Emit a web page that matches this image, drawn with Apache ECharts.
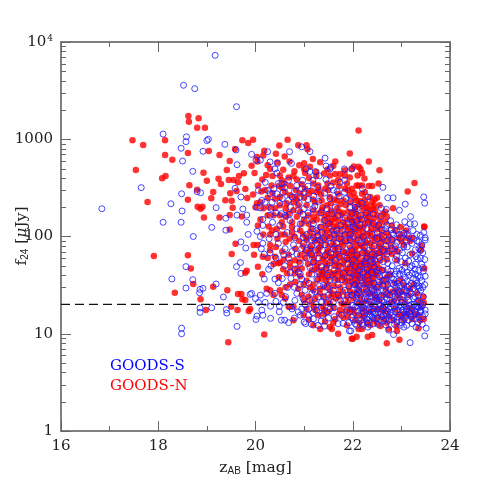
<!DOCTYPE html>
<html>
<head>
<meta charset="utf-8">
<style>
html, body { margin: 0; padding: 0; background: #fff; }
#chart { width: 491px; height: 491px; }
</style>
<script src="https://cdn.jsdelivr.net/npm/echarts@6/dist/echarts.min.js"></script>
</head>
<body>
<div id="chart"></div>
<script>
// values: [z_AB, f24 in microJy]
const goodsN = [
[18.62,1733],[18.83,1640],[18.63,1514],[18.8,1315],[18.96,1315],[17.47,975],[18.14,975],[17.69,873],[19.73,975],[19.85,915],
[19.58,795],[19.04,757],[18.61,722],[18.14,689],[19.26,689],[18.29,617],[19.47,597],[17.54,483],[19.41,483],[18.93,453],
[19.76,447],[19.66,419],[18.15,419],[18.08,398],[19.24,393],[19.45,381],[19.55,381],[19.0,375],[19.64,361],[19.29,347],
[18.64,336],[19.79,308],[18.8,303],[19.61,294],[19.13,287],[19.48,278],[19.09,247],[19.83,249],[18.61,239],[19.38,236],
[19.51,233],[17.78,226],[18.81,202],[18.91,202],[18.87,193],[19.53,198],[19.47,166],[18.94,157],[19.26,157],[19.72,161],
[19.47,118],[19.59,84],[17.91,63],[18.61,64],[19.51,66],[18.67,47],[19.82,44.5],[19.79,42.5],[18.72,32.5],[18.34,26.4],
[19.13,30.5],[19.42,28],[19.64,25.6],[19.71,25.6],[19.73,22.6],[19.79,22.2],[18.87,22.6],[19.5,19],[18.98,17.5],[19.63,17.5],
[19.86,17.1],[19.44,8.2],
[19.95,990],[20.49,860],[20.66,990],[20.88,870],[21.05,870],[21.07,790],[21.18,625],[21.94,715],[20.6,665],[20.42,710],
[20.18,760],[20.16,680],[20.03,655],[20.04,590],[19.92,535],[20.3,495],[20.57,485],[20.5,425],[20.14,385],[20.05,335],
[20.68,405],[20.54,378],[21.0,565],[21.0,495],[21.02,450],[21.33,580],[21.64,590],[21.6,535],[21.84,480],[21.98,495],
[22.12,520],[21.94,405],[21.64,440],[21.74,440],[21.84,425],[20.85,385],[21.41,445],[21.53,425],[21.6,360],[22.08,335],
[21.88,350],[21.84,310],[21.43,310],[21.29,335],[21.19,350],[21.09,275],[21.26,285],[21.02,310],[20.92,275],[20.81,255],
[20.71,265],[20.61,285],[20.5,255],[20.4,245],[20.1,225],[20.03,220],[20.0,200],[20.16,195],[20.4,195],[20.5,210],
[20.64,220],[20.78,225],[20.88,210],[21.05,210],[21.23,225],[21.36,235],[21.53,255],[21.7,275],[21.81,235],[21.94,265],
[22.08,235],[21.36,186],[21.47,210],[21.3,172],[21.19,186],[21.09,165],[20.92,180],[20.78,186],[20.68,172],[20.5,165],
[20.37,165],[20.54,140],[20.27,127],[20.44,120],[20.57,127],[20.52,105],[20.16,105],[20.34,115],[20.75,110],[20.92,115],
[21.09,135],[21.26,150],[21.4,146],[21.53,135],[21.64,155],[21.77,165],[21.91,180],[22.05,186],[22.12,150],[21.98,146],
[21.84,130],[21.7,146],[21.57,115],[21.47,115],[21.33,125],[21.19,100],[21.05,97],[21.36,97],[21.67,97],[21.94,97],
[22.12,115],[21.81,105],[20.75,140],
[22.12,1230],[22.33,590],[22.55,480],[22.16,495],[22.19,450],[22.02,525],[22.1,425],[22.24,395],[22.12,335],[22.19,335],
[22.33,330],[22.4,330],[22.53,350],[23.27,355],[23.13,290],[22.83,195],[22.19,275],[22.36,255],[22.16,230],[22.4,225],
[22.43,210],[22.33,186],[22.46,186],[22.05,200],[22.26,165],[22.36,172],[22.5,165],[22.67,180],[22.16,150],[22.02,146],
[22.4,140],[22.57,150],[22.67,140],[22.98,125],[23.1,115],[22.87,115],[23.47,127],[23.47,125],[22.22,125],[22.57,120],
[21.98,115],[22.36,110],[22.74,100],[23.22,97],[23.11,97],[22.16,100],[22.46,97],[22.94,97],
[19.96,82],[20.04,82],[20.3,82],[20.05,49],[20.14,41],[20.37,52],[20.5,54],[20.57,46],[20.47,53],[20.71,54],
[20.81,57],[20.92,64],[21.02,70],[21.16,64],[21.19,54],[21.16,45],[21.26,49],[21.43,54],[21.53,62],[21.64,72],
[21.81,82],[21.94,68],[22.08,80],[21.94,49],[21.74,42],[21.64,37],[21.5,32],[21.36,37],[21.19,32],[21.05,35],
[20.92,39],[20.81,42],[20.71,32],[20.3,28],[20.23,29],[20.37,25],[20.5,28],[20.54,25],[20.61,23],[20.68,19],
[20.78,19],[20.95,25],[21.09,24],[21.23,23],[21.4,24],[21.53,20.5],[21.88,24],[22.01,23],[22.12,20.5],[21.7,26],
[19.89,18],[21.23,17.5],[20.99,15.5],[20.78,13.8],[21.19,12.2],[21.33,11.2],[21.53,11.7],[21.57,11.2],[21.7,10],[21.64,14.2],
[21.43,13.4],[21.29,15.5],[21.88,12.2],[21.98,8.9],[20.18,9.8],[22.08,9.3],[22.12,11.2],[21.81,14.7],[21.98,16.8],[21.5,16.8],
[21.74,17.5],[20.99,32],[21.36,45],[21.53,43],[21.67,54],[21.84,57],[21.98,38],[22.08,33],[21.84,34],[21.74,30],
[21.53,28],[21.33,29],[21.19,28],[21.77,20.5],[21.94,18],[22.08,15.5],[21.05,18],
[22.0,8.9],[22.31,9.3],[22.4,9.7],[22.7,8],[22.96,8.7],[23.35,11.4],[22.91,10.7],[22.57,12],[22.74,11.2],[23.39,13.8],
[23.46,14.2],[23.47,47],[23.25,32],[23.39,72],[23.22,67],[23.42,80],[23.18,90],[21.98,57],[22.09,54],[22.22,57],
[22.36,50],[22.5,52],[22.02,45],[22.16,41],[22.29,43],[22.43,41],[22.57,57],[22.63,45],[22.77,41],[22.91,57],
[23.08,53],[22.36,33.5],[22.22,32],[22.05,32],[22.57,32],[22.7,33.5],[22.87,33.5],[23.05,31.5],[22.02,26],[22.16,24],
[22.33,26],[22.46,23],[22.63,25],[22.81,27],[22.98,23],[23.15,25],[23.35,22],[23.46,21],[22.02,17.5],[22.19,18],
[22.36,16.8],[22.53,18],[22.7,16.8],[22.87,18],[23.05,16],[23.22,17.5],[22.05,13.8],[22.22,14.7],[22.43,13.8],[22.63,14.2],
[22.84,13.8],[23.05,13.8],[23.22,14.2],[23.35,15.5],[22.36,12.2],[22.19,11.2],[22.16,82],[22.36,85],[22.53,79],[22.7,89],
[22.87,75],[23.05,82],[22.05,74],[22.26,66],[22.43,69],[22.63,64],[22.81,66],
// centre of the red mass
[21.05,92],[21.22,89],[21.43,91],[21.6,88],[21.88,90],[22.0,87],[22.25,92],[22.45,90],[22.6,94],[21.12,79],[21.32,77],
[21.5,80],[21.72,78],[21.95,76],[22.2,79],[22.4,77],[22.58,76],[21.1,68],[21.3,67],[21.47,69],[21.7,66],[21.85,68],
[22.02,65],[22.3,68],[22.5,67],[22.72,70],[21.2,60],[21.38,59],[21.58,61],[21.75,60],[21.9,58],[22.1,61],[22.28,60],
[22.42,59],[22.7,58],[21.08,52],[21.3,53],[21.48,51],[21.62,50],[21.8,52],[22.0,51],[22.15,53],[22.3,50],[22.45,49],
[21.25,46],[21.45,47],[21.7,45],[21.88,46],[22.05,47],[22.2,46],[22.38,45],[22.55,47],[21.1,41],[21.42,40],[21.6,41],
[21.78,39],[21.92,42],[22.1,40],[22.3,39],[22.5,40],[22.7,38],[21.28,36],[21.45,35],[21.7,36],[21.9,35],[22.05,37],
[22.25,36],[22.42,35],[22.6,36],[21.12,30],[21.42,30],[21.62,31],[21.92,30],[22.12,29],[22.3,30],[22.48,29],[22.68,29],
[22.98,36],[22.9,28],[21.32,26],[21.58,26],[21.8,27],[21.95,27],[22.22,27],[22.4,26],[22.73,25],[22.92,25],[21.15,21],
[21.45,21],[21.65,23],[21.82,20],[22.28,22],[22.55,22],[22.78,21],[23.08,21],[21.38,19],[21.6,18.5],[21.72,16],[22.2,15.5],
[22.45,18],[22.62,17],[22.95,16],[23.15,18.5],[21.1,14],[21.4,16],[21.9,15],[22.3,13],[22.52,15],[22.75,15],[23.0,15],
// upper part of the mass
[21.15,295],[21.35,270],[21.5,300],[21.62,240],[21.75,215],[21.9,300],[22.02,280],[22.25,285],[22.28,215],[22.5,250],
[22.05,170],[22.12,215],[22.25,240],[22.3,200],[22.45,240],[22.55,210],[22.02,120],[22.1,130],[22.25,135],[22.3,150],
[22.48,130],[22.6,105],[22.7,160],[21.55,185],[21.68,195],[21.8,175],[21.95,160],[21.2,160],[21.42,165],[21.58,150],
[21.15,120],[21.28,110],[21.45,130],[21.62,125],[21.75,120],[21.9,115],[22.05,105],[21.12,110],[21.48,100],[21.76,95],
[22.22,110],[22.8,130],[23.0,105],[22.52,100],[22.82,92],[23.0,90],[20.7,95],[20.9,90],[20.45,95],[20.62,88],[20.82,75],
[20.98,80],[20.55,70],[20.68,65],[20.25,60],[20.48,38],[20.65,42],[20.82,34],[20.95,47],[20.15,62],[19.97,65],
[20.2,300],[20.33,335],[20.12,290],[20.48,330],[20.72,330],[20.83,300],[20.95,345],[21.1,400],[21.25,420],[20.22,430],
[20.35,420],[20.8,470],[20.9,540],[20.7,590],[20.45,575],[20.25,540],[19.98,450],[19.95,270],[20.28,200],[20.62,160],
[20.85,160],[20.25,165],[20.1,150],[20.05,130],[20.3,105],
// solid core, second pass over the crops
[21.98,52],[22.05,60],[22.12,48],[22.2,52],[22.27,55],[22.34,45],[22.41,53],[22.02,40],[22.09,44],[22.24,38],[22.32,42],
[22.39,38],[21.99,34],[22.12,37],[22.28,33],[22.35,36],[22.42,31],[22.47,44],[21.92,64],[22.02,70],[22.14,66],[22.24,72],
[22.35,62],[22.45,64],[22.56,68],[21.8,70],[21.66,64],[21.56,56],[21.72,50],[21.85,44],[21.63,42],[21.5,38],[21.38,42],
[21.82,38],[22.18,100],[22.08,92],[22.3,105],[22.38,122],[22.14,122],[22.02,135],[21.9,125],[21.8,140],[21.68,130],
[21.56,140],[21.48,155],[21.88,150],[22.0,175],[22.12,165],[22.22,185],[22.32,160],[22.44,155],[21.72,180],[21.62,170],
[21.5,170],[21.38,200],[21.55,220],[21.68,235],[21.86,210],[21.96,225],[22.2,205],[22.42,195],[22.35,140],[22.55,135],
[22.62,170],[22.48,118],[22.58,88],[22.7,110],[22.78,80],[22.92,70],[21.68,108],[21.55,100],[21.42,110],[21.28,92],
[21.35,82],[21.5,70],[21.62,80],[21.78,88],[21.92,105],[22.28,85],[22.38,100],[22.65,75],[21.42,62],[21.28,72],
[21.15,75],[21.02,60],[20.9,55],[20.85,47],[21.32,40],[21.55,24],[21.72,24],[21.9,21],[22.08,26],[22.2,21],[22.38,20],
[22.5,24],[22.62,19],[22.85,22],[23.02,27],[23.18,29],[23.32,26],[22.28,17],[22.14,13],[21.85,17],[21.6,13],[22.5,12.8],
[22.7,13],[22.9,12],[23.12,16],[23.28,16],[23.4,19],[23.45,24],[20.62,30],[20.88,29],[21.0,22],[21.2,19],[21.42,17.5],
[20.4,62],[20.58,58],[20.72,48],[20.3,72],[20.42,78],[20.6,105],[20.8,100],[20.98,105],[20.95,135],[21.18,145],
[21.0,150],[20.75,125],[20.62,195],[20.85,240],[21.0,250],[21.18,240],[21.3,300],[21.48,350],[21.72,330],[21.98,310],
[22.05,250],[20.55,315],[20.35,280],[20.25,250],[20.6,350],[20.78,420],[21.12,520],[21.25,460],[21.48,490],[21.7,380]
];
const goodsS = [
[19.17,7300],[18.52,3590],[18.75,3310],[19.61,2160],[18.1,1130],[18.58,1060],[18.57,945],[19.03,1000],[19.0,970],[18.47,807],
[19.37,887],[18.92,752],[19.6,775],[18.5,597],[19.62,547],[18.71,468],[17.65,318],[19.58,313],[18.48,275],[18.8,289],
[18.87,282],[19.7,255],[18.26,217],[16.84,193],[19.19,198],[19.74,192],[18.49,183],[19.62,166],[19.82,166],[19.39,154],
[18.1,140],[18.47,140],[19.82,140],[19.1,124],[19.39,116],[19.85,105],[18.72,100],[19.7,88],[19.8,76],
[19.61,49],[19.69,54],[18.57,49],[19.7,41.7],[18.28,36.6],[18.71,36],[18.57,29.5],[19.19,32.5],[18.86,28.6],[18.92,29.3],
[18.85,26.4],[19.34,23.9],[19.89,25.4],[18.86,18.4],[18.86,16.6],[19.1,18.5],[19.4,17.7],[19.41,16.3],[19.62,11.9],[18.48,11.4],
[18.48,10.0],
[20.7,745],[20.95,835],[21.12,745],[20.25,745],[19.92,700],[20.01,610],[20.1,610],[20.3,585],[20.45,565],[20.74,565],
[21.43,640],[21.45,530],[21.55,515],[21.53,495],[20.4,495],[20.44,450],[21.04,495],[21.12,465],[21.23,465],[21.31,420],
[21.45,385],[21.83,495],[21.74,360],[21.83,378],[21.83,285],[20.06,298],[20.25,298],[20.47,350],[20.54,350],[20.85,335],
[20.97,378],[20.95,310],[21.0,285],[21.18,378],[20.44,275],[20.3,275],[20.13,235],[20.34,225],[20.2,225],[20.57,285],
[20.92,255],[20.75,255],[20.3,165],[20.03,200],[20.1,197],[20.54,172],[20.61,165],[20.71,146],[21.0,193],[21.18,193],
[21.53,245],[21.64,200],[21.86,245],[21.94,200],[22.05,200],[21.47,193],[21.57,172],[21.7,165],[21.84,155],[21.05,146],
[21.19,135],[20.92,135],[21.43,146],[21.26,115],[21.36,110],[21.6,115],[21.67,115],[21.84,105],[22.01,125],[22.08,146],
[20.03,113],[20.1,100],[20.81,97],[21.05,105],[21.19,97],[21.53,97],[22.01,100],
[22.62,320],[22.72,250],[22.83,250],[23.46,255],[23.48,220],[23.08,215],[22.96,186],[22.59,195],[22.69,190],[22.31,255],
[22.2,310],[21.98,495],[23.19,160],[23.27,135],[23.07,142],[22.9,132],[22.79,117],[22.7,130],[22.6,117],[22.43,135],
[22.53,130],[22.09,193],[22.19,220],[21.98,172],[22.16,165],[23.24,115],[23.39,103],[23.49,97],[23.05,108],[22.96,105],
[22.84,105],[23.15,100],[22.29,120],[22.4,105],[22.63,100],[22.05,120],[21.95,105],[22.22,100],
[20.15,85],[20.18,66],[20.3,68],[20.47,85],[20.61,75],[20.78,82],[20.27,46],[20.18,36.5],[20.81,46],[20.47,33.5],
[20.4,36.5],[20.73,37],[20.92,41],[20.95,36.5],[20.92,32],[19.92,26],[20.0,23],[20.1,25],[20.23,26],[20.06,21],
[20.2,21],[20.42,21.5],[20.57,21],[20.31,19.2],[20.49,19.2],[20.13,17.5],[20.15,15.5],[20.03,15.2],[20.01,14],[20.31,14.4],
[20.53,13.8],[20.6,13.8],[20.68,13],[20.49,16.8],[20.71,19],[20.75,18],[20.88,16.8],[20.92,15.5],[21.0,13.2],[21.03,12.7],
[21.19,14.2],[21.29,12.2],[21.09,15.5],[21.26,17.5],[21.47,16.8],[21.53,18],[21.7,12.7],[21.93,10.7],[21.77,15.5],[21.88,17.5],
[22.01,13.8],[22.08,12.2],[21.12,22],[21.02,20],[20.81,22],[21.36,21],[21.6,21],[21.84,22],[22.01,19.6],[21.29,24],
[21.5,25],[21.7,32],[21.53,35.5],[21.26,36.5],[21.16,41],[20.88,43],[21.36,49],[21.53,54],[21.64,57],[21.81,42],
[21.94,38],[22.05,32],[22.12,28],[21.19,55],[21.05,60],[21.23,72],[21.43,82],[21.6,74],[21.81,70],[21.94,80],
[22.08,64],[20.92,53],[20.99,85],[21.26,85],[21.67,85],[21.43,64],[21.02,28],[21.23,27],[21.4,31.5],[21.6,28],
[21.84,28],[21.98,25],[22.08,23],
[23.18,8.1],[23.51,11.4],[23.48,9.5],[21.96,10.7],[22.84,9.8],[22.74,10.9],[23.05,11.7],[22.22,12.2],[22.05,12.7],[22.31,11.7],
[22.43,12.7],[23.11,12.2],[23.22,12.7],[23.49,17.5],[23.49,16],[23.39,16.8],[23.29,14.2],[23.01,13.8],[22.84,14.7],[22.63,15.5],
[22.46,16],[22.29,14.2],[22.12,15.5],[21.98,14.7],[23.49,39],[23.48,32],[23.37,29.5],[23.29,41],[23.39,38],[23.25,37],
[23.32,30.5],[23.35,25],[23.42,19],[23.18,27],[23.15,22],[23.05,25],[22.94,28],[22.84,32],[22.74,40],[22.5,45],
[22.4,54],[22.29,60],[22.16,50],[22.05,49],[22.26,52],[22.46,57],[22.63,55],[22.81,50],[22.87,41],[23.01,45],
[23.08,60],[23.22,50],[23.29,52],[23.39,60],[23.48,58],[23.33,59],[23.29,73],[23.42,82],[23.05,79],[22.81,75],
[22.57,85],[22.16,85],[21.98,72],[22.33,72],[22.91,87],[23.49,92],[22.02,32],[22.09,29],[22.19,35.5],[22.33,32],
[22.09,25],[22.26,26],[22.43,28],[22.53,31.5],[22.63,35.5],[22.77,29],[22.63,28],[22.53,25],[22.7,23],[22.87,24],
[23.01,21],[23.25,23],[22.09,21],[22.26,20.5],[22.43,22],[22.57,19.6],[22.81,20.5],[22.94,19],[23.11,18],[23.29,19],
[22.16,18],[22.33,18],[22.5,17.5],[22.74,18],[22.87,16.8],[23.05,16.8],[23.18,16],[22.36,15.5],[22.22,16.8],[22.57,13.8],
[22.74,13.8],[23.15,13.8],[22.91,13.2],[23.39,20.5],[21.98,25],[21.98,19.6],
// blue crowd at the faint end
[22.15,38],[22.3,40],[22.42,37],[22.55,39],[22.68,36],[22.8,38],[22.95,35],[23.08,38],[23.2,33],[23.12,30],[22.98,31],
[22.72,32],[22.44,33],[22.28,29],[22.14,31],[22.24,23],[22.38,24],[22.5,21.5],[22.64,21],[22.76,25],[22.9,22],[23.03,24],
[23.2,20],[23.33,21.5],[23.45,24],[22.18,19.6],[22.32,20],[22.46,19],[22.62,18.5],[22.78,19],[23.0,18.8],[23.16,19.5],
[23.28,17],[23.36,18.5],[22.1,17],[22.28,17.5],[22.42,17],[22.58,16.5],[22.68,16],[22.82,15.5],[22.97,15.5],[23.12,15.5],
[23.26,15.5],[23.44,15],[22.18,14],[22.34,14.8],[22.5,14.5],[22.68,14.3],[22.92,14.8],[23.08,14.5],[23.34,13],[23.43,12.5],
[22.3,12.8],[22.52,12.5],[22.68,12.3],[22.86,12.5],[22.98,12.2],[23.3,11.7],[22.14,45],[22.3,46],[22.44,48],[22.6,45],
[22.72,46],[22.95,47],[23.12,43],[23.18,48],[23.36,45],[23.45,44],[22.2,68],[22.4,66],[22.54,68],[22.7,66],[22.9,63],
[23.02,68],[23.18,65],[23.3,62],[23.44,68],[23.36,75],[23.12,78],[22.96,72],[22.68,80],[22.44,80],[22.24,78],[23.22,85],
[23.36,88],[23.1,92],[22.8,93],[22.5,95],[22.3,90],[22.12,92],[21.85,90],[21.7,75],[21.55,68],[21.38,72],[21.15,66],
[21.05,72],[20.85,66],[20.68,60],[21.12,48],[21.3,43],[21.48,40],[21.62,45],[21.75,49],[21.9,52],[22.02,58],[21.72,62],
[21.88,60],[21.3,60],[21.45,47],[21.1,33],[21.32,31],[21.48,30],[21.62,36],[21.78,36],[21.92,31],[21.7,25],[21.42,24],
[21.16,26],[21.95,42],[21.9,25],[21.75,22],[21.48,21],[21.25,20],[21.1,18],[21.35,18.5],[21.62,18.5],[21.95,17],
[21.5,14.5],[21.62,15],[21.35,13.5],[21.15,12.5],[21.92,13],[21.8,12.8],[21.42,12],
[21.15,92],[21.4,95],[21.72,95],[21.95,92],[21.28,102],[21.75,130],[21.5,135],[21.35,125],[21.18,120],[21.98,140],
[22.15,130],[22.32,140],[22.5,110],[22.72,92],[22.9,115],[23.1,122],[23.32,105],[23.46,110],[20.5,130],[20.65,110],
[20.85,120],[20.28,95],[20.42,105],[20.98,168],[20.72,200],[20.5,220],[20.32,195],[20.15,150],[21.3,230],[21.2,260],
[21.08,240],[21.42,280],[21.6,300],[21.72,260],[21.95,230],
// second pass, mostly the lower right block
[22.92,26],[23.05,28],[23.2,26],[23.28,24],[23.4,28],[23.12,24],[22.98,19.6],[23.2,15],[23.36,14.8],[23.44,20],[23.32,33],
[23.12,35],[23.42,35],[22.84,36],[22.96,41],[23.08,48],[22.72,53],[22.55,60],[22.38,58],[22.88,58],[23.15,56],[23.28,46],
[23.42,52],[23.0,55],[23.22,42],[22.75,70],[22.62,72],[22.88,80],[23.25,95],[23.4,72],[23.12,105],[23.32,90],[22.98,96],
[22.82,108],[22.68,120],[23.18,135],[22.25,55],[22.1,40],[22.2,33],[22.35,26],[22.55,34],[22.68,27],[22.76,22],[22.9,30],
[22.3,23],[22.42,18],[22.6,22],[22.5,27],[22.24,15],[22.4,15],[22.58,18],[22.72,17],[22.64,13.5],[22.8,14],[23.0,13],
[23.26,20],[21.55,85],[21.32,92],[21.15,80],[20.95,75],[20.75,70],[20.58,65],[20.98,98],[21.62,105],[21.78,115],[21.9,135],
[22.18,150],[22.28,175],[22.42,170],[22.58,160],[22.78,145],[21.35,175],[21.22,205],[21.08,175],[20.88,185],[20.7,170],
[20.42,175],[20.55,245],[20.68,235],[20.9,220],[20.8,290],[20.6,320],[20.38,310],[20.2,360],[20.68,380],[21.08,330],
[21.28,320],[21.55,330],[21.68,290],[20.15,130],[20.35,140],[20.12,75],[20.42,60],[20.32,50],[20.6,50],[20.72,43],
[20.55,37],[20.66,30],[20.8,30],[20.62,24],[20.85,26],[20.98,23],[20.4,26],[21.18,16.5],[21.38,15.5],[20.95,18],[20.8,14.5],
// third pass, ring crowd along the dashed line
[22.06,19],[22.14,23],[22.22,18.5],[22.34,21.5],[22.48,23],[22.54,20],[22.66,19.5],[22.72,20],[22.86,19],[22.92,20.5],[23.06,20],
[23.1,17],[23.22,18.5],[23.3,16],[23.4,17.5],[22.2,12.8],[22.42,14.5],[22.6,15],[22.78,16.5],[22.92,17.5],[23.02,17.5],
[23.16,16.8],[23.34,19],[22.12,26.5],[22.3,27],[22.46,25],[22.58,24],[22.7,25.5],[22.84,26],[22.96,27],[23.1,27.5],[23.24,29],
[23.36,31],[23.44,30],[22.36,30],[22.5,30],[22.62,31],[22.8,33],[22.92,33],[23.04,33],[23.16,31],[23.3,36],[22.22,43],
[22.38,43],[22.52,42],[22.66,40],[22.78,44],[22.9,44],[23.04,41],[23.16,40],[23.34,39],[23.44,48]
];
const limitLine = [[16, 20], [24, 20]];
const logMinorTicks = [2,3,4,5,6,7,8,9,20,30,40,50,60,70,80,90,200,300,400,500,600,700,800,900,2000,3000,4000,5000,6000,7000,8000,9000];

const serif = '"DejaVu Serif", serif';
const axisGray = '#808080';
const tickGray = '#666666';

var chart = echarts.init(document.getElementById('chart'));

const xCommon = {
    type: 'value', min: 16, max: 24, interval: 2,
    axisLine: { show: true, onZero: false, lineStyle: { color: axisGray, width: 2 } },
    axisTick: { show: true, inside: true, length: 10, lineStyle: { color: tickGray, width: 1 } },
    minorTick: { show: true, splitNumber: 2, length: 5, lineStyle: { color: tickGray, width: 1 } },
    splitLine: { show: false }
};
const yCommon = {
    type: 'log', logBase: 10, min: 1, max: 10000,
    axisLine: { show: true, onZero: false, lineStyle: { color: axisGray, width: 2 } },
    axisTick: { show: true, inside: true, length: 10, lineStyle: { color: tickGray, width: 1 } },
    minorTick: { show: false },
    splitLine: { show: false }
};

// log minor ticks on both sides, placed with the axis scale
function renderMinorTick(params, api) {
    var v = api.value(0);
    var l = api.coord([16, v]);
    var r = api.coord([24, v]);
    var style = { stroke: tickGray, lineWidth: 1 };
    return { type: 'group', silent: true, children: [
        { type: 'line', shape: { x1: l[0], y1: Math.round(l[1]) + 0.5, x2: l[0] + 5, y2: Math.round(l[1]) + 0.5 }, style: style },
        { type: 'line', shape: { x1: r[0], y1: Math.round(r[1]) + 0.5, x2: r[0] - 5, y2: Math.round(r[1]) + 0.5 }, style: style }
    ] };
}

var option = {
    animation: false,
    backgroundColor: '#fff',
    textStyle: { fontFamily: serif },
    grid: { left: 61, top: 42, width: 389, height: 389, outerBoundsMode: 'none' },
    xAxis: [
        Object.assign({}, xCommon, {
            position: 'bottom',
            axisLabel: { color: '#222', fontFamily: serif, fontSize: 15, margin: 8 },
            name: '{a|z}{s|AB}{a| [mag]}',
            nameLocation: 'middle', nameGap: 28,
            nameTextStyle: { rich: {
                a: { fontFamily: serif, fontSize: 15.5, color: '#222' },
                s: { fontFamily: 'Liberation Sans, sans-serif', fontSize: 10, color: '#222', padding: [7, 0, 0, 0] }
            } }
        }),
        Object.assign({}, xCommon, { position: 'top', axisLabel: { show: false } })
    ],
    yAxis: [
        Object.assign({}, yCommon, {
            position: 'left',
            axisLabel: {
                color: '#222', fontFamily: serif, fontSize: 15, margin: 8,
                formatter: function (v) {
                    v = Math.round(v);
                    return v === 10000 ? '{b|10}{s|4}' : String(v);
                },
                rich: {
                    b: { fontFamily: serif, fontSize: 15, color: '#222' },
                    s: { fontFamily: serif, fontSize: 9, color: '#222', padding: [0, 0, 7, 1] }
                }
            }
        }),
        Object.assign({}, yCommon, { position: 'right', axisLabel: { show: false } })
    ],
    graphic: [
        { type: 'text', left: 110, top: 359, style: { text: 'GOODS-S', fill: '#0000ff', font: '15px ' + serif } },
        { type: 'text', left: 110, top: 379, style: { text: 'GOODS-N', fill: '#ff0000', font: '15px ' + serif } },
        {
            type: 'text', x: 22, y: 236, rotation: Math.PI / 2,
            style: {
                text: '{a|f}{s|24}{a| [}{m|μ}{a|Jy]}', align: 'center', verticalAlign: 'middle',
                rich: {
                    a: { fontFamily: serif, fontSize: 15.5, fill: '#222' },
                    m: { fontFamily: serif, fontStyle: 'italic', fontSize: 15.5, fill: '#222' },
                    s: { fontFamily: 'Liberation Sans, sans-serif', fontSize: 10, fill: '#222', padding: [7, 0, 0, 0] }
                }
            }
        }
    ],
    series: [
        {
            type: 'scatter', name: 'GOODS-N', data: goodsN, symbol: 'circle', symbolSize: 6.5,
            itemStyle: { color: '#ff0000' }, z: 2, large: false
        },
        {
            type: 'scatter', name: 'GOODS-S', data: goodsS, symbol: 'circle', symbolSize: 6,
            itemStyle: { color: 'rgba(0,0,0,0)', borderColor: '#1a1aff', borderWidth: 1 }, z: 3
        },
        {
            type: 'line', data: limitLine, symbol: 'none', z: 4,
            lineStyle: { color: '#111', width: 1.2, type: [9, 5] }
        },
        {
            type: 'custom', data: logMinorTicks.map(function (v) { return [v]; }),
            encode: { y: 0 }, renderItem: renderMinorTick, z: 1, silent: true
        }
    ]
};
chart.setOption(option);
window.onresize = function () { chart.resize(); };
</script>
</body>
</html>
